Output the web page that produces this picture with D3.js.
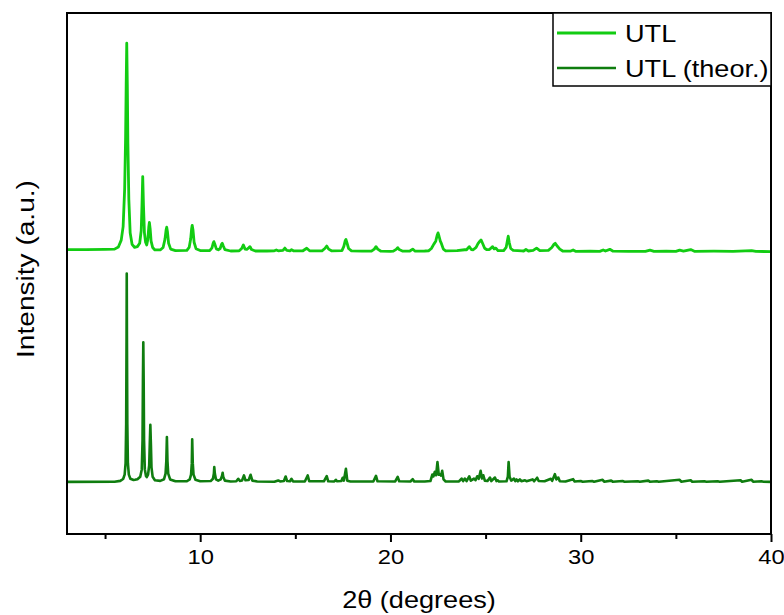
<!DOCTYPE html>
<html>
<head>
<meta charset="utf-8">
<script src="https://cdn.jsdelivr.net/npm/d3@7"></script>
<style>
  html, body { margin: 0; padding: 0; background: #fff; }
  svg text { font-family: "Liberation Sans", Arial, sans-serif; fill: #000; }
</style>
</head>
<body>
<svg id="chart" width="784" height="615"></svg>
<script>
// Series names and colours
const seriesNames = ["UTL", "UTL (theor.)"];
const seriesColors = ["#12cc12", "#0f7d0f"];

// Major and minor tick values on the 2θ axis
const majorTicks = [10, 20, 30, 40];
const minorTicks = [5, 15, 25, 35];

// Measured pattern: [2θ, relative intensity]
const utlPattern = [
  [3.0,1.0],[4.0,1.0],[5.0,1.1],[5.5,1.2],[5.7,2.2],[5.85,5.5],[5.95,12],[6.03,30],[6.08,55],[6.11,80],[6.14,100],[6.17,80],[6.2,52],[6.25,25],[6.32,9],[6.42,3.5],[6.55,2.0],[6.7,2.4],
  [6.82,4],[6.9,10],[6.94,22],[6.98,36],[7.02,22],[7.07,9],[7.13,4.5],[7.19,3.2],
  [7.25,6],[7.3,12],[7.33,14],[7.37,11],[7.42,5],[7.5,2],[7.62,0.8],
  [7.9,0.8],[8.05,2],[8.15,6],[8.21,10.5],[8.24,11.7],[8.28,9.5],[8.34,4],[8.45,1.2],[8.7,0.5],
  [9.3,0.6],[9.42,2],[9.5,6],[9.55,11],[9.58,12.6],[9.62,10.5],[9.68,4.5],[9.78,1.4],[10.0,0.5],
  [10.5,0.5],[10.62,1.8],[10.68,4],[10.72,4.8],[10.77,3.5],[10.85,1.3],[10.95,0.9],[11.05,1.5],[11.12,3.5],[11.16,4.0],[11.21,2.8],[11.3,0.9],[11.6,0.3],
  [12.05,0.4],[12.18,1.5],[12.27,3.2],[12.36,1.2],[12.45,1.1],[12.55,1.8],[12.62,2.4],[12.7,1.0],[12.9,0.3],
  [13.5,0.3],[13.9,0.4],[14.0,0.8],[14.1,0.4],[14.35,0.6],[14.45,1.7],[14.55,0.6],[14.72,0.4],[14.8,0.9],[14.9,0.4],[15.4,0.4],[15.6,1.6],[15.75,0.4],[16.4,0.4],[16.55,1.5],[16.65,2.7],[16.75,1.2],[16.9,0.4],
  [17.45,0.5],[17.55,2.5],[17.62,5.2],[17.66,5.8],[17.72,4],[17.8,1.5],[17.95,0.4],
  [18.5,0.2],[19.0,0.2],[19.15,1.2],[19.24,2.4],[19.33,1.2],[19.5,0.2],[20.0,0.1],[20.15,0.2],[20.3,1.1],[20.38,1.9],[20.46,1.0],[20.65,0.2],[21.0,0.2],[21.17,1.2],[21.3,0.2],[21.8,0.3],
  [22.0,0.4],[22.15,1.5],[22.28,3.6],[22.38,5],[22.46,8],[22.5,9.0],[22.55,7.5],[22.62,5],[22.68,3.8],[22.78,1.2],[22.9,0.4],
  [23.5,0.5],[23.9,0.9],[24.0,0.9],[24.14,2.4],[24.25,1.0],[24.35,0.9],[24.5,2.0],[24.6,3.8],[24.7,5.0],[24.76,5.6],[24.84,4.0],[24.95,1.6],[25.05,1.0],[25.2,1.0],[25.37,2.4],[25.45,1.3],[25.54,1.7],[25.65,0.5],
  [25.95,0.5],[26.08,2],[26.15,5.5],[26.19,7.4],[26.24,4.5],[26.32,1.5],[26.45,0.6],[26.9,0.4],[27.0,0.3],[27.12,1.0],[27.25,0.3],[27.5,0.6],[27.68,1.7],[27.85,0.5],
  [28.3,0.6],[28.48,2],[28.6,3.6],[28.66,4.0],[28.75,2.8],[28.9,1.2],[29.05,0.3],[29.45,0.2],[29.6,0.8],[29.75,0.1],
  [30.5,0.2],[31.0,0.1],[31.18,0.8],[31.3,0.3],[31.53,1.1],[31.7,0.2],[32.5,0.1],[33.4,0.1],[33.64,0.7],[33.85,0.1],[34.5,0.2],[35.0,0.1],[35.2,0.7],[35.4,0.2],[35.78,1.0],[36.0,0.1],[37.0,0.2],[38.0,0.1],[38.98,0.5],[39.2,0.1],[40.0,0.0]
];

// Calculated pattern: [2θ, relative intensity]
const theorPattern = [
  [3.0,0],[5.5,0.1],[5.8,0.5],[5.95,1.4],[6.03,3.5],[6.08,9],[6.11,28],[6.13,70],[6.14,100],[6.15,70],[6.17,28],[6.2,9],[6.25,3.5],[6.33,1.5],[6.5,0.9],[6.57,1.0],[6.7,1.3],
  [6.85,2.5],[6.93,6],[6.97,20],[6.99,48],[7.01,67],[7.03,48],[7.05,20],[7.09,6],[7.15,2.8],[7.19,2.3],
  [7.26,3.5],[7.32,8],[7.35,18],[7.38,27.4],[7.41,18],[7.44,7],[7.5,2.5],[7.62,0.8],
  [7.9,0.5],[8.1,1.3],[8.18,4],[8.22,10],[8.25,21.5],[8.28,10],[8.32,4],[8.42,1.2],[8.7,0.3],
  [9.3,0.3],[9.45,1.2],[9.52,3.5],[9.56,9],[9.58,20.5],[9.61,9],[9.65,3.5],[9.75,1.0],[10.0,0.3],
  [10.55,0.4],[10.67,1.5],[10.72,4],[10.74,7.1],[10.77,4],[10.83,1.2],[10.95,0.6],[11.08,1.2],[11.15,3],[11.18,4.4],[11.21,2.5],[11.3,0.6],[11.6,0.2],
  [11.9,0.3],[12.0,1.5],[12.08,0.5],[12.2,0.7],[12.3,3.1],[12.38,0.8],[12.55,0.9],[12.65,3.4],[12.74,0.6],[13.0,0.2],
  [13.9,0.1],[14.1,0.7],[14.2,0.2],[14.4,0.4],[14.49,2.6],[14.57,0.4],[14.72,0.3],[14.8,1.5],[14.88,0.2],[15.5,0.2],[15.65,3.1],[15.73,0.3],[16.5,0.3],[16.65,2.8],[16.73,0.3],
  [17.05,0.2],[17.13,1.0],[17.2,0.3],[17.42,0.4],[17.49,2.0],[17.55,0.6],[17.66,6.3],[17.73,0.6],[17.9,0.2],
  [19.1,0.2],[19.24,2.9],[19.32,0.3],[20.25,0.2],[20.38,2.4],[20.46,0.3],[21.05,0.2],[21.17,1.3],[21.25,0.2],[21.8,0.2],
  [22.1,0.4],[22.2,3.5],[22.26,2.6],[22.33,4.8],[22.4,3.2],[22.47,9.5],[22.54,3.4],[22.6,3.6],[22.66,3.0],[22.72,5.3],[22.79,1.2],[22.9,0.2],
  [23.6,0.2],[23.74,1.6],[23.82,0.4],[23.91,1.6],[24.0,0.4],[24.14,2.7],[24.22,0.6],[24.39,1.6],[24.47,0.8],[24.56,2.7],[24.64,1.5],[24.74,5.3],[24.81,1.6],[24.88,3.2],[24.96,0.6],
  [25.1,0.4],[25.23,2.1],[25.3,0.4],[25.49,2.1],[25.57,0.4],[25.63,0.8],[25.7,0.2],
  [26.1,0.3],[26.17,2.5],[26.21,9.5],[26.26,2.5],[26.35,0.6],[26.49,1.6],[26.56,0.4],[26.63,1.2],[26.7,0.3],[26.8,1.2],[26.88,0.3],[27.07,0.8],[27.15,0.3],[27.47,1.2],[27.55,0.3],[27.71,2.0],[27.79,0.4],
  [28.1,0.3],[28.43,1.5],[28.5,0.5],[28.64,3.7],[28.72,1.2],[28.82,2.1],[28.9,0.3],[29.2,0.2],[29.6,1.3],[29.68,0.2],
  [30.0,0.4],[30.1,0.1],[30.6,0.4],[30.7,0.1],[31.15,1.0],[31.23,0.1],[31.6,0.6],[31.68,0.1],[32.2,0.4],[32.3,0.1],[33.0,0.3],[33.1,0.1],[33.55,0.6],[33.63,0.1],[34.0,0.3],[34.1,0.1],
  [35.2,1.0],[35.28,0.1],[35.78,0.8],[35.86,0.1],[36.5,0.3],[36.6,0.1],[37.2,0.3],[37.3,0.1],[38.4,0.8],[38.48,0.1],[38.98,1.0],[39.06,0.1],[39.5,0.3],[39.6,0.1],[40.0,0]
];

// Vertical stacking offsets for each pattern
const stackOffsets = [135.5, 25];

const svg = d3.select("#chart");
const margin = { left: 67, right: 13, top: 13, bottom: 81 };
const W = 784, H = 615;
const plotW = W - margin.left - margin.right;
const plotH = H - margin.top - margin.bottom;
const textStretch = 1.13; // glyphs are drawn slightly wide

const x = d3.scaleLinear().domain([3, 40]).range([margin.left, margin.left + plotW]);
const y = d3.scaleLinear().domain([0, 250]).range([margin.top + plotH, margin.top]);

svg.append("defs").append("clipPath").attr("id", "plotClip")
  .append("rect")
  .attr("x", margin.left).attr("y", margin.top)
  .attr("width", plotW).attr("height", plotH);

const patterns = [utlPattern, theorPattern];
const widths = [2.8, 2.6];

const plot = svg.append("g").attr("clip-path", "url(#plotClip)");
patterns.forEach((pat, i) => {
  const line = d3.line()
    .x(d => x(d[0]))
    .y(d => y(d[1] + stackOffsets[i]))
    .curve(d3.curveLinear);
  plot.append("path")
    .datum(pat)
    .attr("fill", "none")
    .attr("stroke", seriesColors[i])
    .attr("stroke-width", widths[i])
    .attr("stroke-linejoin", "round")
    .attr("d", line);
});

// Frame
svg.append("rect")
  .attr("x", margin.left).attr("y", margin.top)
  .attr("width", plotW).attr("height", plotH)
  .attr("fill", "none").attr("stroke", "#000").attr("stroke-width", 2);

// Bottom axis: major ticks with labels
const axisMajor = svg.append("g")
  .attr("transform", `translate(0,${margin.top + plotH})`)
  .call(d3.axisBottom(x).tickValues(majorTicks).tickSize(8).tickPadding(7).tickFormat(d3.format("d")));
axisMajor.select(".domain").remove();
axisMajor.selectAll("line").attr("stroke", "#000").attr("stroke-width", 2);
axisMajor.selectAll("text")
  .style("font-size", "21px").attr("fill", "#000")
  .attr("transform", `scale(${textStretch},1)`)
  .attr("x", 0);

// Bottom axis: minor ticks
const axisMinor = svg.append("g")
  .attr("transform", `translate(0,${margin.top + plotH})`)
  .call(d3.axisBottom(x).tickValues(minorTicks).tickSize(5).tickFormat(""));
axisMinor.select(".domain").remove();
axisMinor.selectAll("line").attr("stroke", "#000").attr("stroke-width", 2);

// Axis titles
svg.append("text")
  .attr("transform", `translate(${margin.left + plotW / 2},608) scale(${textStretch},1)`)
  .attr("text-anchor", "middle")
  .style("font-size", "24px")
  .text("2θ (degrees)");

svg.append("text")
  .attr("transform", `translate(34,269) rotate(-90) scale(1.17,1)`)
  .attr("text-anchor", "middle")
  .style("font-size", "24px")
  .text("Intensity (a.u.)");

// Legend
const legend = svg.append("g");
legend.append("rect")
  .attr("x", 553).attr("y", margin.top)
  .attr("width", margin.left + plotW - 553).attr("height", 73)
  .attr("fill", "#fff").attr("stroke", "#000").attr("stroke-width", 1.5);
seriesNames.forEach((name, i) => {
  const ly = 33 + i * 35;
  legend.append("line")
    .attr("x1", 557).attr("x2", 616)
    .attr("y1", ly).attr("y2", ly)
    .attr("stroke", seriesColors[i]).attr("stroke-width", widths[i]);
  legend.append("text")
    .attr("transform", `translate(625,${ly + 8.5}) scale(${textStretch},1)`)
    .style("font-size", "24px")
    .text(name);
});
</script>
</body>
</html>
